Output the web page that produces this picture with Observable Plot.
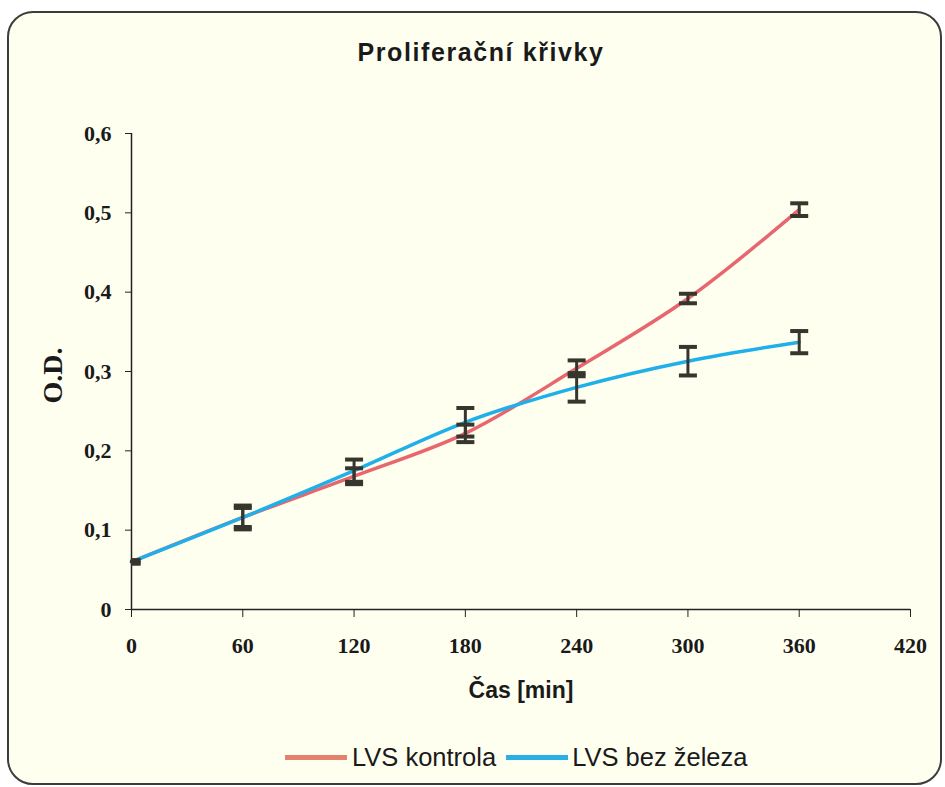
<!DOCTYPE html>
<html>
<head>
<meta charset="utf-8">
<script src="https://cdn.jsdelivr.net/npm/d3@7"></script>
<script src="https://cdn.jsdelivr.net/npm/@observablehq/plot@0.6"></script>
<style>
  html, body { margin: 0; padding: 0; background: #ffffff; }
  #frame { position: absolute; left: 7px; top: 11px; width: 935px; height: 774px; box-sizing: border-box;
           border: 2px solid #3c3c3c; border-radius: 26px; background: #fffff0; }
  #title { position: absolute; left: 281px; top: 40px; width: 400px; text-align: center;
           font-family: "Liberation Sans", Arial, sans-serif; font-weight: bold; font-size: 25px;
           line-height: 1; letter-spacing: 1.6px; color: #1a1a1a; }
  #chart { position: absolute; left: 0; top: 90px; }
  #legend { position: absolute; left: 285px; top: 745px; display: flex; align-items: center;
            font-family: "Liberation Sans", Arial, sans-serif; font-size: 25.5px; line-height: 1; color: #1a1a1a; }
  .sw { display: inline-block; width: 62px; height: 5px; }
</style>
</head>
<body>
<div id="frame"></div>
<div id="title">Proliferační křivky</div>
<div id="chart"></div>
<div id="legend">
  <span class="sw" style="background:#e4826f"></span><span style="margin-left:5px">LVS kontrola</span>
  <span class="sw" style="background:#2aaee6;margin-left:10px"></span><span style="margin-left:4px">LVS bez železa</span>
</div>
<script>
// ---- data ----
const times = [0, 60, 120, 180, 240, 300, 360];
const kontrola    = [0.060, 0.116, 0.168, 0.222, 0.304, 0.392, 0.504];
const kontrolaErr = [0.002, 0.012, 0.010, 0.011, 0.010, 0.006, 0.008];
const bezZeleza    = [0.060, 0.116, 0.175, 0.236, 0.280, 0.313, 0.337];
const bezZelezaErr = [0.002, 0.015, 0.014, 0.018, 0.018, 0.018, 0.014];
const xTicks = [0, 60, 120, 180, 240, 300, 360, 420];
const yTicks = [0, 0.1, 0.2, 0.3, 0.4, 0.5, 0.6];
const seriesNames = ["LVS kontrola", "LVS bez železa"];
const seriesColors = ["#e8666e", "#1fb0ea"];

const rowsK = times.map((t, i) => ({t, v: kontrola[i], lo: kontrola[i] - kontrolaErr[i], hi: kontrola[i] + kontrolaErr[i], s: seriesNames[0]}));
const rowsB = times.map((t, i) => ({t, v: bezZeleza[i], lo: bezZeleza[i] - bezZelezaErr[i], hi: bezZeleza[i] + bezZelezaErr[i], s: seriesNames[1]}));
const allRows = rowsK.concat(rowsB);

// horizontal cap symbol for error bars
const cap = { draw(ctx, size) { const r = Math.sqrt(size / Math.PI); ctx.moveTo(-r, 0); ctx.lineTo(r, 0); } };

const fmtY = d => d === 0 ? "0" : d.toFixed(1).replace(".", ",");
const serif = "'Liberation Serif', 'Times New Roman', serif";
const sans = "'Liberation Sans', Arial, sans-serif";
const errColor = "#36362e";

const chart = Plot.plot({
  width: 945,
  height: 620,
  marginLeft: 131,
  marginRight: 35,
  marginTop: 43,
  marginBottom: 101,
  style: { background: "transparent", overflow: "visible" },
  x: { domain: [0, 420] },
  y: { domain: [0, 0.6] },
  marks: [
    Plot.axisY({ ticks: yTicks, tickFormat: fmtY, tickSize: 6, tickPadding: 14, label: null,
      fontFamily: serif, fontWeight: "bold", fontSize: 22, fill: "#1a1a1a", stroke: "#222" }),
    Plot.axisX({ ticks: xTicks, tickFormat: d => String(d), tickSize: 8, tickPadding: 20, label: null,
      fontFamily: serif, fontWeight: "bold", fontSize: 22, fill: "#1a1a1a", stroke: "#222" }),
    Plot.ruleY([0], { stroke: "#222", strokeWidth: 1.5 }),
    Plot.ruleX([0], { stroke: "#222", strokeWidth: 1.5 }),
    Plot.text(["O.D."], { text: d => d, frameAnchor: "left", dx: -78, dy: 32, rotate: -90,
      fontFamily: serif, fontWeight: "bold", fontSize: 28, fill: "#1a1a1a" }),
    Plot.text(["Čas [min]"], { text: d => d, frameAnchor: "bottom", lineAnchor: "bottom", dy: 88,
      fontFamily: sans, fontWeight: "bold", fontSize: 23, fill: "#1a1a1a" }),
    Plot.line(rowsK, { x: "t", y: "v", stroke: seriesColors[0], strokeWidth: 3.5, curve: "catmull-rom" }),
    Plot.line(rowsB, { x: "t", y: "v", stroke: seriesColors[1], strokeWidth: 3.5, curve: "catmull-rom" }),
    Plot.ruleX(allRows, { x: "t", y1: "lo", y2: "hi", stroke: errColor, strokeWidth: 3 }),
    Plot.dot(allRows, { x: "t", y: "lo", symbol: cap, r: 9, stroke: errColor, strokeWidth: 4, clip: "frame" }),
    Plot.dot(allRows, { x: "t", y: "hi", symbol: cap, r: 9, stroke: errColor, strokeWidth: 4, clip: "frame" })
  ]
});
document.getElementById("chart").appendChild(chart);
</script>
</body>
</html>
